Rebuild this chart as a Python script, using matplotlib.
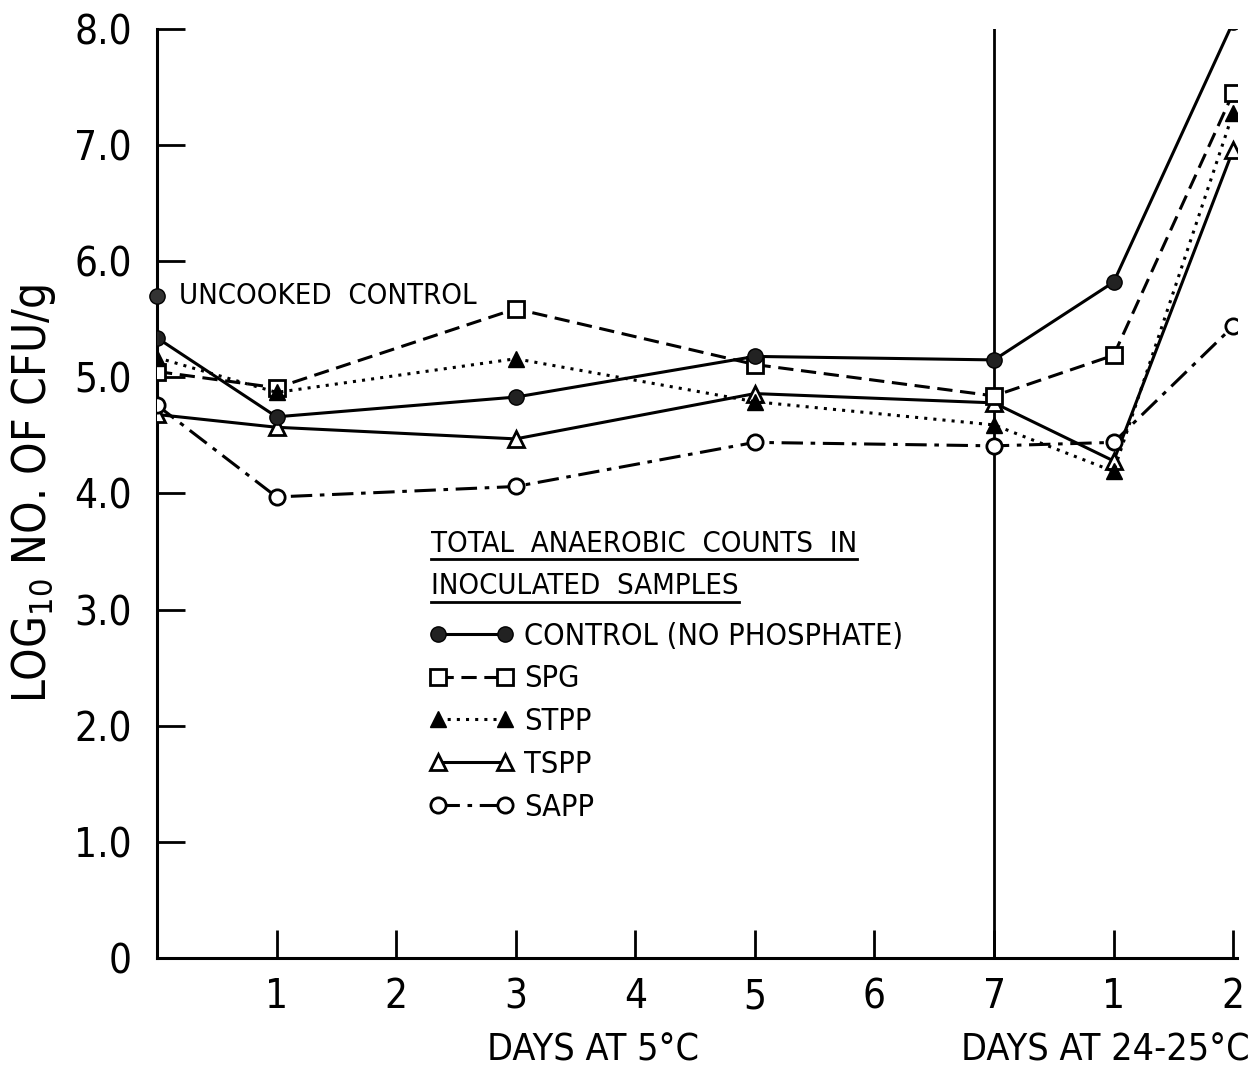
import matplotlib
matplotlib.use('Agg')
import matplotlib.pyplot as plt
from matplotlib import font_manager
from matplotlib.transforms import blended_transform_factory

plt.rcParams['font.family'] = ['DejaVu Sans']
plt.rcParams['font.stretch'] = 'condensed'
plt.rcParams['mathtext.fontset'] = 'custom'
plt.rcParams['mathtext.rm'] = 'DejaVu Sans:stretch=condensed'

# shrink sizes a bit more when only the regular width face exists
has_cond = any(f.name == 'DejaVu Sans' and f.stretch == 'condensed'
               for f in font_manager.fontManager.ttflist)
k = 1.0 if has_cond else 0.87

# sampling points: days 0..7 at 5C, then days 1 and 2 at 24-25C
x = [0, 1, 3, 5, 7, 8, 9]
control = [5.34, 4.66, 4.83, 5.18, 5.15, 5.82, 8.06]
spg = [5.05, 4.91, 5.59, 5.11, 4.84, 5.19, 7.45]
stpp = [5.17, 4.87, 5.16, 4.79, 4.59, 4.19, 7.28]
tspp = [4.68, 4.57, 4.47, 4.86, 4.78, 4.28, 6.96]
sapp = [4.76, 3.97, 4.06, 4.44, 4.41, 4.44, 5.44]
uncooked = 5.70

xticks = [1, 2, 3, 4, 5, 6, 7, 8, 9]
xticklabels = ['1', '2', '3', '4', '5', '6', '7', '1', '2']
yticks = [0, 1, 2, 3, 4, 5, 6, 7, 8]
yticklabels = ['0', '1.0', '2.0', '3.0', '4.0', '5.0', '6.0', '7.0', '8.0']

fig = plt.figure(figsize=(12.6, 10.71), dpi=100)
ax = fig.add_axes([0.1246, 0.1055, 0.857, 0.8675])

lw = 2.2
ms = 11
l1, = ax.plot(x, control, '-', color='black', lw=lw, marker='o', ms=ms,
              mfc='#222222', mec='black', label='CONTROL (NO PHOSPHATE)', zorder=5)
l2, = ax.plot(x, spg, color='black', lw=lw, ls=(0, (5, 2.5)), marker='s', ms=ms,
              mfc='white', mec='black', mew=2, label='SPG', zorder=4)
l3, = ax.plot(x, stpp, color='black', lw=lw, ls=(0, (1, 2)), marker='^', ms=ms + 1,
              mfc='black', mec='black', label='STPP', zorder=4)
l4, = ax.plot(x, tspp, '-', color='black', lw=lw, marker='^', ms=ms + 1,
              mfc='white', mec='black', mew=2, label='TSPP', zorder=3)
l5, = ax.plot(x, sapp, color='black', lw=lw, ls=(0, (7, 2.5, 1.5, 2.5)), marker='o', ms=ms,
              mfc='white', mec='black', mew=2, label='SAPP', zorder=3)
ax.plot([0], [uncooked], 'o', color='black', ms=ms, mfc='#333333', zorder=6, clip_on=False)
ax.text(0.18, uncooked, 'UNCOOKED  CONTROL', fontsize=21 * k, va='center', ha='left')

ax.axvline(7, color='black', lw=2)

ax.set_xlim(0, 9.03)
ax.set_ylim(0, 8)
ax.set_xticks(xticks)
ax.set_xticklabels(xticklabels)
ax.set_yticks(yticks)
ax.set_yticklabels(yticklabels)
ax.tick_params(direction='in', length=20, width=2, labelsize=29 * k)
ax.tick_params(axis='x', pad=14)
ax.tick_params(axis='y', pad=18)
for side in ['top', 'right']:
    ax.spines[side].set_visible(False)
for side in ['left', 'bottom']:
    ax.spines[side].set_linewidth(2.2)
for lab in ax.get_xticklabels() + ax.get_yticklabels():
    lab.set_clip_on(False)

ax.set_ylabel('LOG$_{10}$ NO. OF CFU/g', fontsize=33 * k, labelpad=12)

tr = blended_transform_factory(ax.transData, ax.transAxes)
ax.text(3.65, -0.1, 'DAYS AT 5°C', transform=tr, fontsize=27 * k, ha='center', va='center')
ax.text(7.93, -0.1, 'DAYS AT 24-25°C', transform=tr, fontsize=27 * k, ha='center', va='center')

# legend heading, underlined
head1 = ax.text(0.254, 0.446, 'TOTAL  ANAEROBIC  COUNTS  IN', transform=ax.transAxes,
                fontsize=21 * k, ha='left', va='center')
head2 = ax.text(0.254, 0.400, 'INOCULATED  SAMPLES', transform=ax.transAxes,
                fontsize=21 * k, ha='left', va='center')
fig.canvas.draw()
renderer = fig.canvas.get_renderer()
inv = ax.transAxes.inverted()
for t in (head1, head2):
    bb = t.get_window_extent(renderer)
    (x0, y0), (x1, _) = inv.transform([[bb.x0, bb.y0], [bb.x1, bb.y1]])
    ax.plot([x0, x1], [y0 - 0.002, y0 - 0.002], transform=ax.transAxes,
            color='black', lw=2, clip_on=False)

ax.legend(handles=[l1, l2, l3, l4, l5], loc='upper left', bbox_to_anchor=(0.252, 0.362),
          frameon=False, fontsize=22 * k, numpoints=2, handlelength=2.8 / k, handletextpad=0.3,
          labelspacing=0.45 / k, borderpad=0, borderaxespad=0)

fig.savefig('out.png', dpi=100)
